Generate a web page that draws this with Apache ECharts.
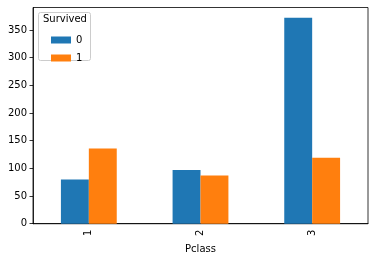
<!DOCTYPE html>
<html><head><meta charset="utf-8">
<script src="https://cdn.jsdelivr.net/npm/echarts@6/dist/echarts.min.js"></script>
<style>html,body{margin:0;padding:0;background:#fff}#c{width:375px;height:259px}</style>
</head><body><div id="c"></div>
<script>
const categories = ['1', '2', '3'];
const died = [80, 97, 372];
const survived = [136, 87, 119];
const yTicks = [0, 50, 100, 150, 200, 250, 300, 350];

const chart = echarts.init(document.getElementById('c'), null, {renderer: 'canvas'});
const font = 'DejaVu Sans';
chart.setOption({
  animation: false,
  textStyle: {fontFamily: font},
  grid: {left: 33, right: 7, top: 7.5, bottom: 35, show: true, borderColor: '#000', borderWidth: 0.8, backgroundColor: 'transparent'},
  xAxis: {
    type: 'category', data: categories,
    name: 'Pclass', nameLocation: 'middle', nameGap: 17,
    nameTextStyle: {fontSize: 10, color: '#000', fontFamily: font},
    axisLine: {lineStyle: {color: '#000', width: 0.8}},
    axisTick: {alignWithLabel: true, length: 3.5, lineStyle: {color: '#000', width: 0.8}},
    axisLabel: {rotate: 90, fontSize: 10, color: '#000', margin: 6, fontFamily: font}
  },
  yAxis: {
    type: 'value', min: 0, max: 390.6,
    splitLine: {show: false},
    axisLine: {show: true, lineStyle: {color: '#000', width: 0.8}},
    axisTick: {show: true, length: 3.5, customValues: yTicks, lineStyle: {color: '#000', width: 0.8}},
    axisLabel: {fontSize: 10, color: '#000', margin: 6, customValues: yTicks, fontFamily: font}
  },
  legend: {
    orient: 'vertical', left: 46, top: 30, itemWidth: 20, itemHeight: 7, itemGap: 8, z: 10,
    icon: 'rect', textStyle: {fontSize: 10, color: '#000', fontFamily: font},
    data: ['0', '1']
  },
  graphic: [
    {type: 'rect', left: 38, top: 12, z: 1, shape: {width: 52, height: 48, r: 2}, style: {fill: '#fff', stroke: '#cccccc', lineWidth: 1}},
    {type: 'text', left: 43, top: 14, z: 11, style: {text: 'Survived', fontSize: 10, fill: '#000', fontFamily: font}}
  ],
  series: [
    {name: '0', type: 'bar', data: died, barGap: '0%', barCategoryGap: '50%', itemStyle: {color: '#1f77b4'}},
    {name: '1', type: 'bar', data: survived, itemStyle: {color: '#ff7f0e'}}
  ]
});
</script></body></html>
